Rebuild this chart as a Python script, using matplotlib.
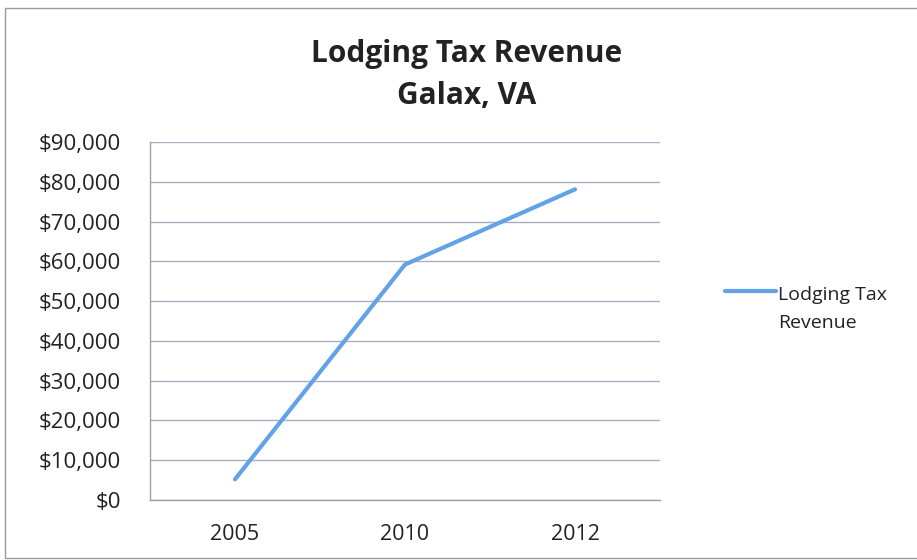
import matplotlib.pyplot as plt
from matplotlib.patches import Rectangle
from matplotlib.ticker import FuncFormatter

plt.rcParams['font.family'] = ['Open Sans', 'DejaVu Sans']

years = ['2005', '2010', '2012']
revenue = [5200, 59200, 78100]
series_name = 'Lodging Tax\nRevenue'

fig = plt.figure(figsize=(9.17, 5.6), dpi=100, facecolor='white')
ax = fig.add_axes([150/917, 1 - 500/560, 510/917, 358/560])

x = range(len(years))
ax.plot(x, revenue, color='#62a2e6', lw=3.0, solid_capstyle='round', label=series_name)

ax.set_xlim(-0.5, 2.5)
ax.set_ylim(0, 90000)
ax.set_yticks(range(0, 90001, 10000))
ax.yaxis.set_major_formatter(FuncFormatter(lambda v, p: '${:,.0f}'.format(v)))
ax.set_xticks(list(x))
ax.set_xticklabels(years)
ax.tick_params(axis='y', length=0, pad=21, labelsize=16, labelcolor='#222222')
ax.tick_params(axis='x', length=0, pad=17, labelsize=15.5, labelcolor='#222222')

ax.grid(axis='y', color='#a9adc2', lw=1)
ax.set_axisbelow(True)
for s in ('top', 'right'):
    ax.spines[s].set_visible(False)
for s in ('left', 'bottom'):
    ax.spines[s].set_color('#a0a0a8')
    ax.spines[s].set_linewidth(1)

fig.text(467/917, 1 - 75/560, 'Lodging Tax Revenue\nGalax, VA', ha='center', va='center',
         fontsize=21.5, fontweight='bold', color='#222222', linespacing=1.5)

leg = ax.legend(loc='center left', bbox_to_anchor=(725/917, 1 - 309/560),
                bbox_transform=fig.transFigure, frameon=False, fontsize=14,
                borderpad=0, borderaxespad=0,
                handlelength=2.6, handletextpad=0.15, labelcolor='#222222')
leg.get_texts()[0].set_linespacing(1.75)
# keep the legend line level with the first line of the label
h = leg.legend_handles[0]
h.set_ydata([y + 13 for y in h.get_ydata()])

# outer chart border (right edge runs off the image)
fig.patches.append(Rectangle((5/917, 2/560), 1.0, 550/560,
                             transform=fig.transFigure, fill=False,
                             edgecolor='#9a9a9a', lw=1, clip_on=False))

fig.savefig('out.png', dpi=100)
